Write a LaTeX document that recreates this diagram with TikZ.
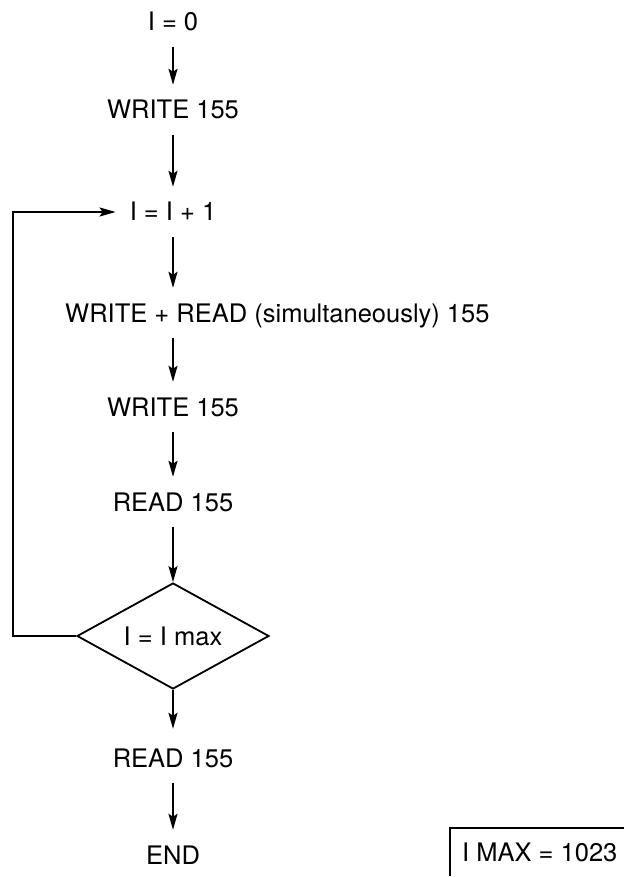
\documentclass[tikz,border=0pt]{standalone}
\usepackage{fontspec}
\setmainfont{TeX Gyre Heros}
\usepackage{tikz}
\usetikzlibrary{arrows, arrows.meta, positioning, shapes.geometric, calc}

\begin{document}
\begin{tikzpicture}[x=1pt, y=-1pt,
		txt/.style={inner sep=0pt, text height=18pt, text depth=0pt, font=\fontsize{25.5}{30}\selectfont},
		flow/.style={-{Stealth[length=16pt, width=9pt, inset=3pt]}, line width=1.8pt, shorten <=16pt, shorten >=16pt},
		line/.style={line width=1.8pt}]
			\useasboundingbox (0,0) rectangle (623,877);
			\node [txt] (i0) at (173,22) {I = 0};
			\node [txt] (w1) at (173,110) {WRITE 155};
			\node [txt] (inc) at (173,212) {I = I + 1};
			\node [txt, anchor=west] (wr) at (65,313) {WRITE + READ (simultaneously) 155};
			\node [txt] (w2) at (173,407) {WRITE 155};
			\node [txt] (r1) at (173,502) {READ 155};
			\node [txt, draw, line width=1.8pt, shape=diamond, aspect=1.8, minimum width=192pt, minimum height=106pt] (test) at (173,636) {I = I max};
			\node [txt] (r2) at (173,758) {READ 155};
			\node [txt] (end) at (173,855) {END};
			\node [txt, inner xsep=12pt, inner ysep=15pt, anchor=west] (imax) at (450,852) {I MAX = 1023};
			\coordinate (back) at (13,0);
			\draw [flow] (i0) to (w1);
			\draw [flow] (w1) to (inc);
			\draw [flow] (inc) to (inc |- wr.north);
			\draw [flow] (inc |- wr.south) to (w2);
			\draw [flow] (w2) to (r1);
			\draw [flow, shorten >=0pt] (r1) to (test.north);
			\draw [flow, shorten <=0pt, shorten >=20pt] (test.south) to (r2);
			\draw [flow] (r2) to (end);
			\draw [line, -{Stealth[length=16pt, width=9pt, inset=3pt]}, shorten >=14pt] (test.west) -- (test.west -| back) |- (inc.west);
			\draw [line] (imax.south west) |- (imax.north east);
		\end{tikzpicture}
\end{document}
